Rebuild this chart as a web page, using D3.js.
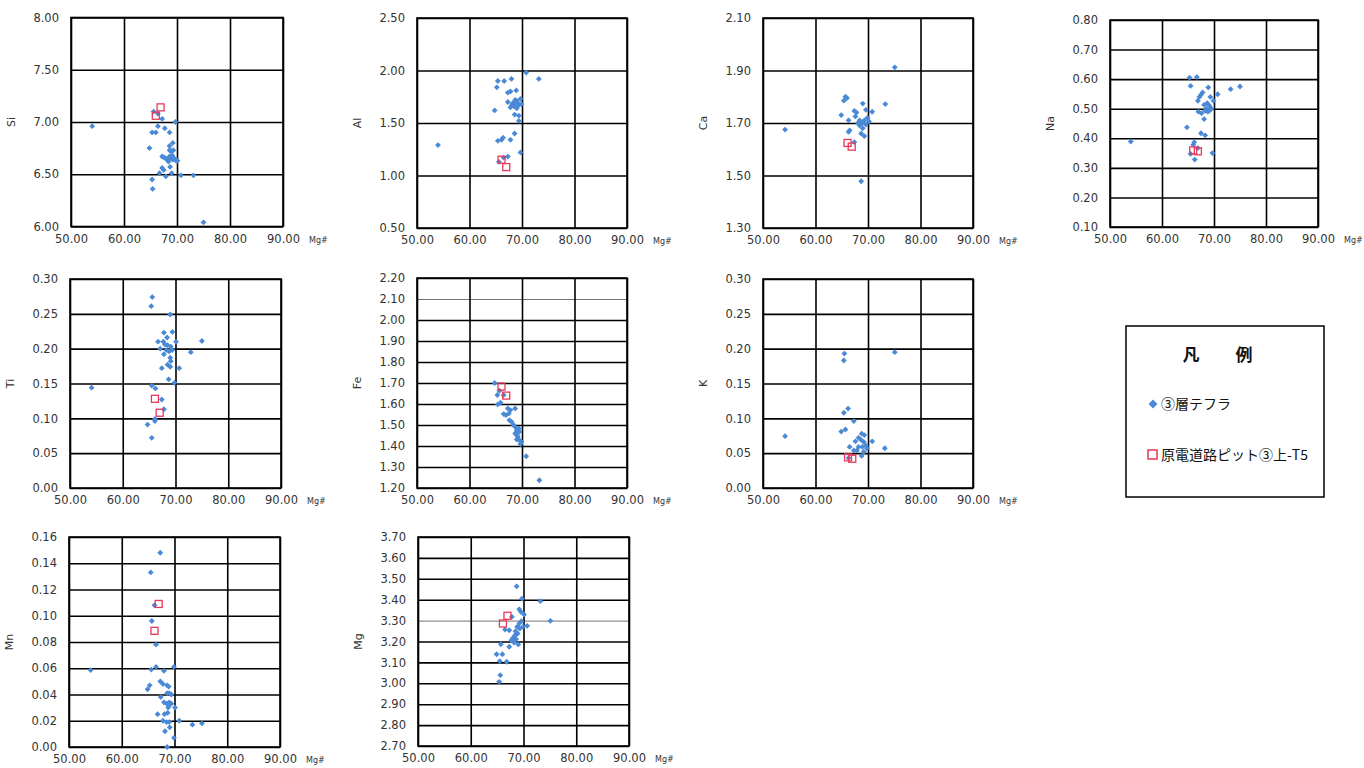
<!DOCTYPE html>
<html><head><meta charset="utf-8">
<script src="https://cdn.jsdelivr.net/npm/d3@7"></script>
<style>body{margin:0;background:#fff}svg{display:block}</style>
</head><body><svg id="c" width="1364" height="768"></svg>
<script>
// ---- data ----
const xTicks = [50, 60, 70, 80, 90];
const xTitle = "Mg#";
const legendTitle = ["凡", "例"];
const seriesNames = ["③層テフラ", "原電道路ピット③上-T5"];

const siTephra = [[54.0,6.96],[65.6,7.10],[66.4,7.08],[67.2,7.03],[66.4,6.96],[65.3,6.90],[66.0,6.90],[67.7,6.94],[68.6,6.90],[69.7,7.00],[69.2,6.80],[68.6,6.77],[64.8,6.75],[68.6,6.73],[68.9,6.72],[69.3,6.73],[67.2,6.67],[67.6,6.66],[67.9,6.65],[68.2,6.64],[68.6,6.67],[68.9,6.65],[69.2,6.64],[69.5,6.65],[69.8,6.63],[69.1,6.68],[68.4,6.62],[70.1,6.63],[68.7,6.57],[67.2,6.56],[67.5,6.54],[66.7,6.51],[67.9,6.48],[69.0,6.51],[70.75,6.49],[73.1,6.49],[65.3,6.45],[65.4,6.36],[75.0,6.04]];
const siT5 = [[66.9,7.14],[66.0,7.06]];
const siTicks = [6.00, 6.50, 7.00, 7.50, 8.00];

const alTephra = [[54.0,1.29],[70.8,1.98],[73.2,1.92],[68.0,1.92],[65.4,1.90],[66.6,1.90],[65.2,1.84],[68.9,1.81],[67.3,1.79],[67.8,1.80],[67.3,1.70],[68.1,1.68],[68.4,1.66],[68.7,1.72],[69.0,1.71],[69.4,1.67],[69.7,1.73],[69.9,1.68],[69.0,1.64],[67.8,1.65],[68.7,1.68],[69.2,1.69],[68.5,1.70],[64.8,1.62],[68.6,1.58],[69.4,1.57],[69.4,1.52],[68.6,1.40],[67.8,1.34],[65.4,1.33],[66.1,1.34],[66.4,1.36],[69.7,1.22],[67.3,1.18],[66.5,1.17],[65.6,1.13]];
const alT5 = [[66.1,1.15],[67.0,1.08]];
const alTicks = [0.50, 1.00, 1.50, 2.00, 2.50];

const caTephra = [[54.2,1.675],[75.1,1.912],[73.3,1.772],[69.0,1.774],[65.7,1.80],[66.0,1.795],[65.4,1.785],[64.9,1.73],[67.4,1.746],[67.8,1.74],[70.8,1.743],[69.6,1.75],[66.3,1.71],[68.4,1.71],[68.9,1.70],[69.3,1.71],[69.6,1.694],[69.9,1.72],[69.0,1.68],[68.7,1.66],[69.3,1.65],[68.4,1.69],[68.1,1.70],[70.2,1.706],[67.6,1.725],[66.3,1.666],[66.5,1.672],[67.4,1.627],[68.7,1.478]];
const caT5 = [[66.1,1.624],[66.9,1.61]];
const caTicks = [1.30, 1.50, 1.70, 1.90, 2.10];

const naTephra = [[54.0,0.389],[65.3,0.605],[66.7,0.607],[65.5,0.577],[68.9,0.572],[73.2,0.566],[75.0,0.575],[67.8,0.555],[67.5,0.547],[67.2,0.54],[66.9,0.527],[70.7,0.549],[69.3,0.54],[69.9,0.527],[67.0,0.49],[67.6,0.485],[68.1,0.513],[68.5,0.50],[68.8,0.49],[69.1,0.51],[68.3,0.493],[68.7,0.519],[69.1,0.493],[69.5,0.50],[68.1,0.465],[64.8,0.437],[67.5,0.417],[68.3,0.41],[66.2,0.387],[66.0,0.378],[66.9,0.367],[65.5,0.347],[69.7,0.35],[66.3,0.328]];
const naT5 = [[66.0,0.359],[66.9,0.356]];
const naTicks = [0.10, 0.20, 0.30, 0.40, 0.50, 0.60, 0.70, 0.80];

const tiTephra = [[54.1,0.144],[65.6,0.274],[65.4,0.261],[69.0,0.249],[67.8,0.223],[69.4,0.224],[66.7,0.21],[67.7,0.21],[75.0,0.211],[68.4,0.216],[70.1,0.21],[72.9,0.195],[67.1,0.200],[67.8,0.192],[68.3,0.198],[68.8,0.196],[69.1,0.203],[69.4,0.198],[68.5,0.205],[69.0,0.187],[69.1,0.182],[68.5,0.177],[69.0,0.174],[68.0,0.206],[67.4,0.172],[70.7,0.172],[68.7,0.156],[69.8,0.151],[65.5,0.147],[66.2,0.143],[67.4,0.127],[67.8,0.113],[66.1,0.099],[66.1,0.096],[64.7,0.091],[65.5,0.072]];
const tiT5 = [[66.1,0.128],[67.0,0.108]];
const tiTicks = [0.00, 0.05, 0.10, 0.15, 0.20, 0.25, 0.30];

const feTephra = [[64.8,1.70],[65.7,1.663],[65.3,1.643],[66.5,1.643],[65.9,1.606],[65.4,1.598],[66.5,1.552],[66.95,1.547],[67.3,1.579],[67.8,1.571],[68.7,1.579],[67.5,1.555],[67.6,1.523],[68.0,1.515],[68.4,1.50],[68.7,1.491],[69.0,1.475],[69.4,1.483],[68.7,1.46],[69.0,1.452],[69.5,1.468],[69.0,1.431],[69.5,1.428],[69.9,1.42],[69.7,1.409],[69.2,1.444],[70.8,1.351],[73.3,1.237]];
const feT5 = [[66.1,1.683],[67.0,1.64]];
const feTicks = [1.20, 1.30, 1.40, 1.50, 1.60, 1.70, 1.80, 1.90, 2.00, 2.10, 2.20];

const kTephra = [[54.2,0.0744],[65.5,0.193],[65.4,0.183],[75.1,0.195],[66.2,0.114],[65.4,0.108],[67.3,0.096],[65.7,0.084],[64.9,0.081],[70.8,0.067],[73.2,0.057],[68.8,0.078],[69.3,0.076],[68.2,0.072],[68.7,0.069],[69.2,0.066],[67.6,0.067],[69.6,0.061],[68.9,0.059],[68.2,0.059],[69.8,0.057],[67.3,0.054],[67.9,0.054],[66.5,0.059],[68.8,0.046],[69.2,0.052],[66.3,0.043]];
const kT5 = [[66.2,0.044],[67.0,0.042]];
const kTicks = [0.00, 0.05, 0.10, 0.15, 0.20, 0.25, 0.30];

const mnTephra = [[54.1,0.0586],[67.3,0.148],[65.5,0.133],[66.2,0.108],[65.7,0.096],[66.5,0.078],[65.6,0.059],[66.5,0.061],[68.0,0.058],[69.9,0.061],[67.3,0.050],[67.8,0.048],[65.3,0.047],[64.9,0.044],[68.6,0.047],[68.9,0.046],[68.6,0.041],[69.0,0.041],[69.4,0.040],[67.4,0.038],[68.0,0.034],[68.5,0.033],[69.0,0.034],[69.4,0.033],[70.1,0.030],[68.8,0.030],[69.0,0.032],[66.8,0.025],[68.1,0.025],[68.7,0.026],[67.8,0.020],[70.9,0.020],[68.5,0.019],[69.0,0.019],[73.4,0.017],[75.2,0.018],[69.1,0.015],[68.2,0.012],[69.9,0.007],[68.6,0.000]];
const mnT5 = [[67.0,0.109],[66.2,0.0885]];
const mnTicks = [0.00, 0.02, 0.04, 0.06, 0.08, 0.10, 0.12, 0.14, 0.16];

const mgTephra = [[68.7,3.464],[69.7,3.405],[73.2,3.393],[75.1,3.299],[69.2,3.354],[69.5,3.342],[70.1,3.329],[67.8,3.318],[70.7,3.275],[69.6,3.297],[69.2,3.286],[68.8,3.27],[69.3,3.262],[68.5,3.249],[68.9,3.238],[69.9,3.27],[68.4,3.23],[68.0,3.217],[67.7,3.206],[68.6,3.211],[68.2,3.195],[66.5,3.257],[67.3,3.254],[67.3,3.175],[69.0,3.186],[65.7,3.187],[64.9,3.139],[66.0,3.139],[65.5,3.106],[66.8,3.103],[65.6,3.039],[65.4,3.007]];
const mgT5 = [[66.96,3.323],[66.1,3.286]];
const mgTicks = [2.70, 2.80, 2.90, 3.00, 3.10, 3.20, 3.30, 3.40, 3.50, 3.60, 3.70];

// ---- layout ----
const panels = [
  {name:"Si", tephra:siTephra, t5:siT5, ticks:siTicks, box:[71,17.5,283,226.5]},
  {name:"Al", tephra:alTephra, t5:alT5, ticks:alTicks, box:[417,18,627,228]},
  {name:"Ca", tephra:caTephra, t5:caT5, ticks:caTicks, box:[763,18,973,228]},
  {name:"Na", tephra:naTephra, t5:naT5, ticks:naTicks, box:[1110,20,1318,227]},
  {name:"Ti", tephra:tiTephra, t5:tiT5, ticks:tiTicks, box:[70,279,281,488]},
  {name:"Fe", tephra:feTephra, t5:feT5, ticks:feTicks, box:[417,278,627,488], thin:[2.10]},
  {name:"K",  tephra:kTephra,  t5:kT5,  ticks:kTicks,  box:[763,279,973,488]},
  {name:"Mn", tephra:mnTephra, t5:mnT5, ticks:mnTicks, box:[69,537,280,747]},
  {name:"Mg", tephra:mgTephra, t5:mgT5, ticks:mgTicks, box:[418,537,629,746], thin:[3.30]}
];

const BLUE = "#4a89d6", RED = "#e8385a", TXT = "#333";
const FONT = "'DejaVu Sans', Verdana, sans-serif";
const svg = d3.select("#c");
const diamond = d3.symbol().type(d3.symbolSquare).size(17);

panels.forEach(p => {
  const [l, t, r, b] = p.box;
  const x = d3.scaleLinear().domain([xTicks[0], xTicks[xTicks.length-1]]).range([l, r]);
  const y = d3.scaleLinear().domain([p.ticks[0], p.ticks[p.ticks.length-1]]).range([b, t]);
  const g = svg.append("g");

  // horizontal grid via axis
  const yAxis = d3.axisLeft(y).tickValues(p.ticks).tickFormat(d3.format(".2f")).tickSize(-(r - l)).tickPadding(12);
  const ya = g.append("g").attr("transform", `translate(${l},0)`).call(yAxis);
  ya.select(".domain").remove();
  ya.selectAll(".tick line").attr("stroke", "#000")
    .attr("stroke-width", d => (p.thin && p.thin.some(v => Math.abs(v - d) < 1e-9)) ? 0.8 : 1.6)
    .attr("stroke-opacity", d => (p.thin && p.thin.some(v => Math.abs(v - d) < 1e-9)) ? 0.7 : 1);
  ya.selectAll(".tick text").attr("fill", TXT).style("font-family", FONT).style("font-size", "11.5px");

  const xAxis = d3.axisBottom(x).tickValues(xTicks).tickFormat(d3.format(".2f")).tickSize(-(b - t)).tickPadding(8);
  const xa = g.append("g").attr("transform", `translate(0,${b})`).call(xAxis);
  xa.select(".domain").remove();
  xa.selectAll(".tick line").attr("stroke", "#000").attr("stroke-width", 1.6);
  xa.selectAll(".tick text").attr("fill", TXT).style("font-family", FONT).style("font-size", "11.5px");

  // frame
  g.append("rect").attr("x", l).attr("y", t).attr("width", r - l).attr("height", b - t)
    .attr("fill", "none").attr("stroke", "#000").attr("stroke-width", 1.6);

  // y title
  g.append("text").attr("transform", `translate(${l - 56},${(t + b) / 2}) rotate(-90)`)
    .attr("text-anchor", "middle").attr("fill", TXT)
    .style("font-family", FONT).style("font-size", "11px").text(p.name);

  // x title
  g.append("text").attr("x", r + 26).attr("y", b + 16).attr("fill", TXT)
    .style("font-family", FONT).style("font-size", "8px").text(xTitle);

  // tephra diamonds
  g.append("g").selectAll("path").data(p.tephra).join("path")
    .attr("d", diamond)
    .attr("transform", d => `translate(${x(d[0])},${y(d[1])}) rotate(45)`)
    .attr("fill", BLUE);

  // T5 squares
  g.append("g").selectAll("rect").data(p.t5).join("rect")
    .attr("x", d => x(d[0]) - 3.5).attr("y", d => y(d[1]) - 3.5)
    .attr("width", 7).attr("height", 7)
    .attr("fill", "none").attr("stroke", RED).attr("stroke-width", 1.3);
});

// ---- legend ----
const lg = svg.append("g");
lg.append("rect").attr("x", 1126).attr("y", 326).attr("width", 198).attr("height", 171)
  .attr("fill", "#fff").attr("stroke", "#000").attr("stroke-width", 1.5);
const CJK = "'Noto Sans CJK JP', 'Noto Sans', sans-serif";
lg.append("text").attr("x", 1191).attr("y", 361).attr("text-anchor", "middle")
  .style("font-family", CJK).style("font-size", "17px").style("font-weight", "bold").attr("fill", "#111").text(legendTitle[0]);
lg.append("text").attr("x", 1244).attr("y", 361).attr("text-anchor", "middle")
  .style("font-family", CJK).style("font-size", "17px").style("font-weight", "bold").attr("fill", "#111").text(legendTitle[1]);
lg.append("path").attr("d", d3.symbol().type(d3.symbolSquare).size(40))
  .attr("transform", "translate(1153,404) rotate(45)").attr("fill", BLUE);
lg.append("text").attr("x", 1161).attr("y", 409).style("font-family", CJK).style("font-size", "14px")
  .attr("fill", "#111").text(seriesNames[0]);
lg.append("rect").attr("x", 1148).attr("y", 450).attr("width", 9).attr("height", 9)
  .attr("fill", "none").attr("stroke", RED).attr("stroke-width", 1.5);
lg.append("text").attr("x", 1161).attr("y", 460).style("font-family", CJK).style("font-size", "14px")
  .attr("fill", "#111").text(seriesNames[1]);
</script>
</body></html>
